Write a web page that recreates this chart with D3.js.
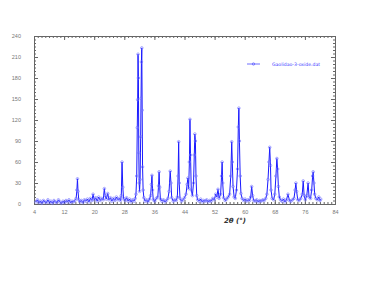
<!DOCTYPE html>
<html>
<head>
<meta charset="utf-8">
<script src="https://cdn.jsdelivr.net/npm/d3@7"></script>
<style>
  body { margin: 0; background: #fff; }
  svg { display: block; font-family: "DejaVu Sans", sans-serif; }
</style>
</head>
<body>
<div class="chart"></div>
<script>
// 2theta (deg) and intensity
var twoTheta = [4.5,4.9,5.3,5.7,6.1,6.5,6.9,7.3,7.7,8.1,8.5,8.9,9.3,9.7,10.1,10.5,10.9,11.3,11.7,12.1,
  12.5,12.9,13.3,13.7,14.1,14.5,14.9,15.2,15.4,15.55,15.7,15.9,16.2,16.6,17.0,17.4,17.8,18.2,18.6,19.0,
  19.4,19.7,20.0,20.4,20.8,21.2,21.6,22.0,22.4,22.7,22.9,23.2,23.6,23.9,24.3,24.7,25.1,25.5,25.9,26.3,
  26.7,27.0,27.2,27.4,27.6,27.8,28.2,28.6,29.0,29.4,29.8,30.2,30.6,30.9,31.1,31.3,31.45,31.55,31.65,31.75,
  31.85,31.95,32.05,32.2,32.35,32.45,32.55,32.65,32.75,32.85,33.0,33.2,33.5,33.9,34.3,34.7,35.0,35.2,35.35,35.5,
  35.7,36.1,36.5,36.9,37.1,37.25,37.4,37.6,38.0,38.4,38.8,39.2,39.6,39.9,40.2,40.4,40.6,41.0,41.4,41.8,
  42.1,42.3,42.45,42.6,42.8,43.2,43.6,44.0,44.4,44.7,44.9,45.1,45.3,45.45,45.6,45.8,46.1,46.4,46.6,46.75,
  46.9,47.05,47.25,47.5,47.9,48.3,48.7,49.1,49.5,49.9,50.3,50.7,51.1,51.5,51.9,52.3,52.6,52.9,53.2,53.6,
  53.85,54.0,54.15,54.4,54.8,55.2,55.6,56.0,56.3,56.55,56.7,56.9,57.2,57.5,57.8,58.1,58.3,58.45,58.6,58.8,
  59.0,59.3,59.7,60.1,60.5,60.9,61.3,61.6,61.85,62.1,62.4,62.8,63.2,63.6,64.0,64.4,64.8,65.2,65.6,65.9,
  66.2,66.45,66.65,66.85,67.0,67.3,67.7,68.0,68.3,68.55,68.75,68.95,69.2,69.5,69.9,70.3,70.7,71.1,71.5,71.9,
  72.3,72.7,73.1,73.4,73.6,73.8,74.1,74.5,74.9,75.3,75.55,75.8,76.1,76.5,76.85,77.1,77.5,77.8,78.05,78.2,
  78.4,78.6,78.9,79.3,79.7,80.0,80.2];
var intensity = [3,6,2,4,1,5,3,2,6,2,4,1,5,3,2,6,3,1,4,2,
  5,3,6,2,4,3,5,8,20,36,18,6,3,5,2,6,4,7,3,8,
  5,14,6,9,4,10,5,8,6,22,12,7,15,6,9,4,8,5,10,6,
  8,5,12,60,24,8,5,9,4,7,3,6,4,8,14,40,109,149,214,180,
  73,30,18,35,96,151,203,223,134,53,20,9,4,6,3,7,12,28,41,20,
  6,4,8,10,26,46,24,7,4,6,3,5,8,18,47,30,9,4,6,5,
  10,40,89,30,8,4,6,9,14,28,37,22,60,121,70,20,12,30,70,100,
  90,40,12,6,4,7,3,5,4,6,3,5,4,8,6,14,10,21,8,14,
  40,60,30,9,5,7,10,14,40,89,60,25,10,8,20,50,110,137,90,40,
  15,8,5,7,4,6,5,10,25,12,5,4,6,3,5,4,6,5,8,14,
  35,60,81,55,20,8,6,14,40,65,50,25,10,6,4,7,3,6,14,5,
  4,6,8,20,30,18,6,5,8,14,33,12,6,12,30,10,8,20,40,46,
  30,14,8,6,10,5,7];

var xTicks = [4, 12, 20, 28, 36, 44, 52, 60, 68, 76, 84];
var yTicks = [0, 30, 60, 90, 120, 150, 180, 210, 240];
var seriesName = 'Gaolidao-3-oxide.dat';

var W = 384, H = 288;
var plotL = 34, plotR = 335, plotT = 36, plotB = 204;

var svg = d3.select('.chart').append('svg')
            .attr('width', W)
            .attr('height', H);

var x = d3.scaleLinear().domain([4, 84]).range([plotL, plotR]);
var y = d3.scaleLinear().domain([0, 240]).range([plotB, plotT]);

var frameColor = '#666';

// minor ticks on all four sides, pointing inward
function minor(axis, vals) {
  return axis.tickValues(vals).tickSize(-2).tickFormat('');
}
var xMinor = d3.range(4, 85, 1);
var yMinor = d3.range(0, 241, 5);

svg.append('g').attr('transform', 'translate(0,' + plotB + ')')
   .call(minor(d3.axisBottom(x), xMinor));
svg.append('g').attr('transform', 'translate(0,' + plotT + ')')
   .call(minor(d3.axisTop(x), xMinor));
svg.append('g').attr('transform', 'translate(' + plotL + ',0)')
   .call(minor(d3.axisLeft(y), yMinor));
svg.append('g').attr('transform', 'translate(' + plotR + ',0)')
   .call(minor(d3.axisRight(y), yMinor));

// major ticks
svg.append('g').attr('transform', 'translate(0,' + plotB + ')')
   .call(d3.axisBottom(x).tickValues(xTicks).tickSizeInner(-4).tickSizeOuter(0).tickPadding(6))
   .attr('class', 'xlab');
svg.append('g').attr('transform', 'translate(0,' + plotT + ')')
   .call(d3.axisTop(x).tickValues(xTicks).tickSizeInner(-4).tickSizeOuter(0).tickFormat(''));
svg.append('g').attr('transform', 'translate(' + plotL + ',0)')
   .call(d3.axisLeft(y).tickValues(yTicks).tickSizeInner(-4).tickSizeOuter(0).tickPadding(13))
   .attr('class', 'ylab');
svg.append('g').attr('transform', 'translate(' + plotR + ',0)')
   .call(d3.axisRight(y).tickValues(yTicks).tickSizeInner(-4).tickSizeOuter(0).tickFormat(''));

svg.selectAll('.domain').attr('stroke', frameColor);
svg.selectAll('.tick line').attr('stroke', frameColor);
svg.selectAll('.xlab text, .ylab text')
   .attr('fill', '#777')
   .style('font-size', '5.5px');

var pts = twoTheta.map(function(t, i) { return [t, intensity[i]]; });

var line = d3.line()
             .x(function(d) { return x(d[0]); })
             .y(function(d) { return y(d[1]); });

svg.append('path')
   .datum(pts)
   .attr('fill', 'none')
   .attr('stroke', '#1a1aff')
   .attr('stroke-width', 1)
   .attr('d', line);

svg.append('g').selectAll('circle')
   .data(pts)
   .enter().append('circle')
   .attr('cx', function(d) { return x(d[0]); })
   .attr('cy', function(d) { return y(d[1]); })
   .attr('r', 1.3)
   .attr('fill', 'none')
   .attr('stroke', '#6f6fff')
   .attr('stroke-width', 0.6);

// legend
svg.append('line')
   .attr('x1', 247).attr('x2', 260)
   .attr('y1', 64).attr('y2', 64)
   .attr('stroke', '#4a4aff')
   .attr('stroke-width', 0.8);
svg.append('circle')
   .attr('cx', 253.5).attr('cy', 64).attr('r', 1.2)
   .attr('fill', 'none').attr('stroke', '#4a4aff').attr('stroke-width', 0.6);
svg.append('text')
   .text(seriesName)
   .attr('x', 272).attr('y', 65.5)
   .attr('fill', '#3a3aff')
   .style('font-size', '4.6px');

// axis title
svg.append('text')
   .text('2θ (°)')
   .attr('x', 235).attr('y', 223)
   .attr('text-anchor', 'middle')
   .attr('fill', '#333')
   .style('font-size', '7px')
   .style('font-style', 'italic')
   .style('font-weight', 'bold');
</script>
</body>
</html>
